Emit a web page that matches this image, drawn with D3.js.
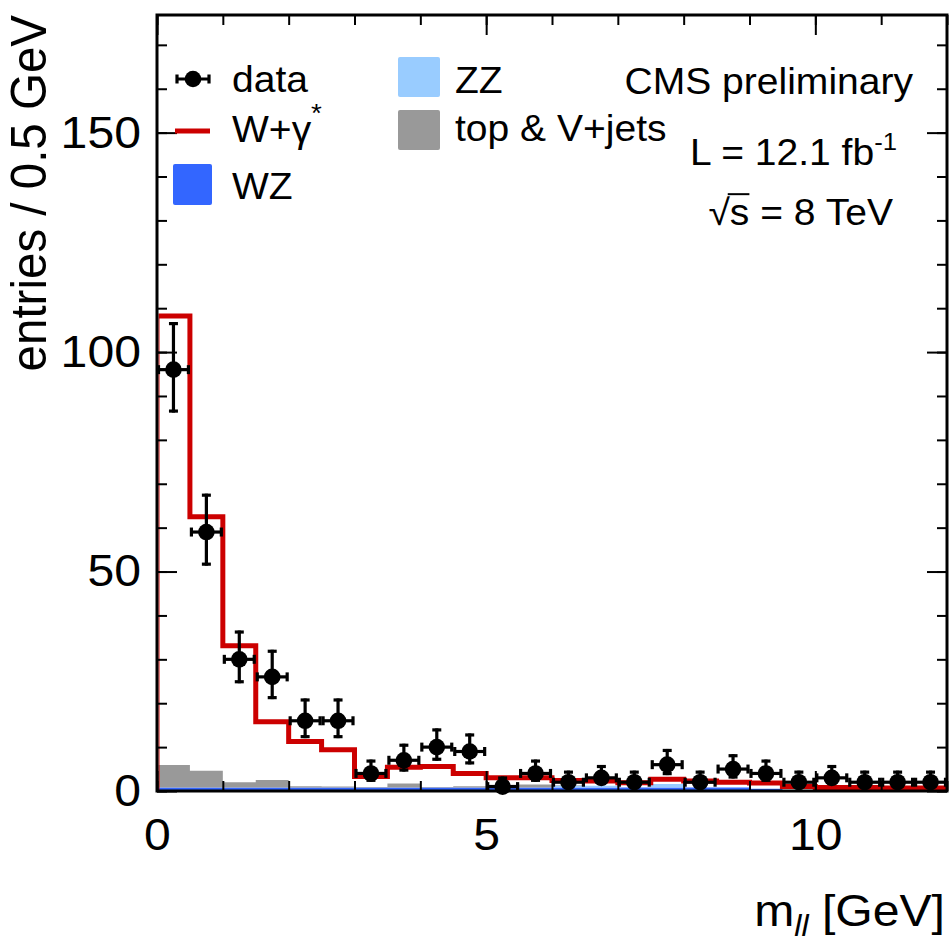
<!DOCTYPE html>
<html><head><meta charset="utf-8">
<script src="https://cdn.jsdelivr.net/npm/d3@7"></script>
<style>
body{margin:0;background:#fff}
svg{display:block}
text{font-family:"Liberation Sans",Arial,Helvetica,sans-serif;fill:#000}
</style>
</head><body>
<svg id="c" width="950" height="944"></svg>
<script>
// ---------------- data ----------------
const binLow = [0,0.5,1,1.5,2,2.5,3,3.5,4,4.5,5,5.5,6,6.5,7,7.5,8,8.5,9,9.5,10,10.5,11,11.5];
const binWidth = 0.5;
const dataCounts = [96,59,30,26,16,16,4,7,10,9,1,4,2,3,2,6,2,5,4,2,3,2,2,2];
const dataErrLow = [9.78,7.66,5.45,5.07,3.96,3.96,1.91,2.58,3.11,2.94,0.83,1.91,1.29,1.63,1.29,2.38,1.29,2.16,1.91,1.29,1.63,1.29,1.29,1.29];
const dataErrUp  = [10.83,8.74,6.56,6.18,5.08,5.08,3.16,3.77,4.26,4.11,2.30,3.16,2.64,2.92,2.64,3.58,2.64,3.38,3.16,2.64,2.92,2.64,2.64,2.64];
const wzValues   = [0.8,0.8,0.8,0.8,0.8,0.8,0.8,0.8,0.8,0.8,0.8,0.8,0.8,0.8,0.8,0.8,0.8,0.8,0.5,0.1,0,0,0,0];
const zzValues   = [0,0,0,0,0,0,0,0,0,0,0,0,0.4,0.4,0,0.8,0,0,0,0,0,0,0,0];
const topVjets   = [5.1,3.8,1.2,1.7,0.3,0.2,0.1,0.9,0.1,0.3,0.6,0.7,0.1,0,0,0,0,0,0,0,0,0,0,0];
const wgamma     = [102.3,57.9,31.1,13.3,10.2,8.4,2.4,3.7,4.7,2.9,1.6,1.5,1.1,1.1,1.1,1.1,1.5,1.2,1.3,0.9,0.8,0.8,0.7,0.7];
const xMajorTicks = [0,5,10];
const xMinorTicks = [0,1,2,3,4,5,6,7,8,9,10,11,12];
const yMajorTicks = [0,50,100,150];
const yMinorTicks = [0,10,20,30,40,50,60,70,80,90,100,110,120,130,140,150,160,170];
const xDomain = [0,12];
const yDomain = [0,176.8];

const legendLeft  = [{name:"data",type:"marker"},{name:"W+γ",sup:"*",type:"line",color:"#cc0000"},{name:"WZ",type:"box",color:"#3366ff"}];
const legendRight = [{name:"ZZ",type:"box",color:"#99ccff"},{name:"top & V+jets",type:"box",color:"#999999"}];
const colors = {wz:"#3366ff", zz:"#99ccff", top:"#999999", wg:"#cc0000"};

// ---------------- layout ----------------
const SX = 1.07; // horizontal stretch of the reference text
const svg = d3.select("#c");
const L = 157, R = 947, T = 15, B = 791;
const x = d3.scaleLinear().domain(xDomain).range([L,R]);
const y = d3.scaleLinear().domain(yDomain).range([B,T]);

svg.append("defs").append("clipPath").attr("id","clip")
  .append("rect").attr("x",L+1.5).attr("y",T).attr("width",R-L-1.5).attr("height",B-T);

// stacked fills
const rows = binLow.map((b,i)=>({x:b, wz:wzValues[i], zz:zzValues[i], top:topVjets[i], wg:wgamma[i]}));
const lastRow = Object.assign({}, rows[rows.length-1], {x: binLow[binLow.length-1]+binWidth});
const rowsExt = rows.concat([lastRow]);
const stack = d3.stack().keys(["wz","zz","top","wg"])(rowsExt);
const area = d3.area().curve(d3.curveStepAfter)
  .x(d=>x(d.data.x)).y0(d=>y(d[0])).y1(d=>y(d[1]));
const plot = svg.append("g").attr("clip-path","url(#clip)");
["wz","zz","top"].forEach(k=>{
  const s = stack.find(s=>s.key===k);
  plot.append("path").attr("d",area(s)).attr("fill",colors[k]).attr("stroke","none");
});
// W+gamma* outline (top of stack)
const wgLayer = stack.find(s=>s.key==="wg");
const linePts = [{x:xDomain[0],v:0}].concat(wgLayer.map(d=>({x:d.data.x, v:d[1]})));
const line = d3.line().curve(d3.curveStepAfter).x(d=>x(d.x)).y(d=>y(d.v));
plot.append("path").attr("d",line(linePts)).attr("fill","none")
  .attr("stroke",colors.wg).attr("stroke-width",5);

// data points
const dg = svg.append("g");
const cap = 4.5;
binLow.forEach((b,i)=>{
  const cx = x(b+binWidth/2), cy = y(dataCounts[i]);
  const x0 = x(b), x1 = x(b+binWidth);
  const yl = y(dataCounts[i]-dataErrLow[i]), yu = y(dataCounts[i]+dataErrUp[i]);
  const g = dg.append("g").attr("stroke","#000").attr("stroke-width",3.2);
  g.append("line").attr("x1",x0+1).attr("x2",x1-1).attr("y1",cy).attr("y2",cy);
  g.append("line").attr("x1",x0+1.5).attr("x2",x0+1.5).attr("y1",cy-cap).attr("y2",cy+cap);
  g.append("line").attr("x1",x1-1.5).attr("x2",x1-1.5).attr("y1",cy-cap).attr("y2",cy+cap);
  g.append("line").attr("x1",cx).attr("x2",cx).attr("y1",yu).attr("y2",yl);
  g.append("line").attr("x1",cx-cap).attr("x2",cx+cap).attr("y1",yu+1.5).attr("y2",yu+1.5);
  g.append("line").attr("x1",cx-cap).attr("x2",cx+cap).attr("y1",yl-1.5).attr("y2",yl-1.5);
  dg.append("circle").attr("cx",cx).attr("cy",cy).attr("r",8.3).attr("fill","#000");
});

// axes (ticks inside, on all four sides)
function styleAxis(g, fontSize){
  g.select(".domain").remove();
  g.selectAll(".tick line").attr("stroke","#000").attr("stroke-width",2);
  g.selectAll(".tick text").attr("font-size",fontSize).attr("fill","#000")
    .attr("font-family",'"Liberation Sans",Arial,sans-serif');
}
const TFS = 45;
const gxb = svg.append("g").attr("transform",`translate(0,${B})`)
  .call(d3.axisBottom(x).tickValues(xMajorTicks).tickSize(-20).tickPadding(27).tickFormat(d3.format("d")));
styleAxis(gxb, TFS);
gxb.selectAll(".tick text").attr("transform",`scale(${SX},1)`);
const gxbm = svg.append("g").attr("transform",`translate(0,${B})`)
  .call(d3.axisBottom(x).tickValues(xMinorTicks).tickSize(-10).tickFormat(""));
styleAxis(gxbm, TFS);
const gxt = svg.append("g").attr("transform",`translate(0,${T})`)
  .call(d3.axisTop(x).tickValues(xMajorTicks).tickSize(-20).tickFormat(""));
styleAxis(gxt, TFS);
const gxtm = svg.append("g").attr("transform",`translate(0,${T})`)
  .call(d3.axisTop(x).tickValues(xMinorTicks).tickSize(-10).tickFormat(""));
styleAxis(gxtm, TFS);

const gyl = svg.append("g").attr("transform",`translate(${L},0)`)
  .call(d3.axisLeft(y).tickValues(yMajorTicks).tickSize(-20).tickPadding(15).tickFormat(d3.format("d")));
styleAxis(gyl, TFS);
gyl.selectAll(".tick text").attr("transform",`scale(${SX},1)`);
const gylm = svg.append("g").attr("transform",`translate(${L},0)`)
  .call(d3.axisLeft(y).tickValues(yMinorTicks).tickSize(-10).tickFormat(""));
styleAxis(gylm, TFS);
const gyr = svg.append("g").attr("transform",`translate(${R},0)`)
  .call(d3.axisRight(y).tickValues(yMajorTicks).tickSize(-20).tickFormat(""));
styleAxis(gyr, TFS);
const gyrm = svg.append("g").attr("transform",`translate(${R},0)`)
  .call(d3.axisRight(y).tickValues(yMinorTicks).tickSize(-10).tickFormat(""));
styleAxis(gyrm, TFS);

// frame
svg.append("rect").attr("x",L).attr("y",T).attr("width",R-L).attr("height",B-T)
  .attr("fill","none").attr("stroke","#000").attr("stroke-width",3);

// text helper
function txt(str, px, py, size, anchor){
  return svg.append("text").attr("transform",`translate(${px},${py}) scale(${SX},1)`)
    .attr("font-size",size).attr("text-anchor",anchor||"start").text(str);
}

// axis titles
const xt = svg.append("text").attr("transform",`translate(945,926) scale(${SX},1)`)
  .attr("font-size",45).attr("text-anchor","end");
xt.append("tspan").text("m");
xt.append("tspan").attr("font-size",30).attr("font-style","italic").attr("dy",10).text("ll");
xt.append("tspan").attr("dy",-10).text(" [GeV]");

svg.append("text").attr("transform",`translate(46,15) rotate(-90) scale(1,${SX})`)
  .attr("font-size",47.5).attr("text-anchor","end").text("entries / 0.5 GeV");

// legend
const LFS = 36.5;
// data entry
(function(){
  const g = svg.append("g").attr("stroke","#000").attr("stroke-width",3.2);
  const cy = 79;
  g.append("line").attr("x1",176).attr("x2",210).attr("y1",cy).attr("y2",cy);
  g.append("line").attr("x1",177).attr("x2",177).attr("y1",cy-cap).attr("y2",cy+cap);
  g.append("line").attr("x1",209).attr("x2",209).attr("y1",cy-cap).attr("y2",cy+cap);
  svg.append("circle").attr("cx",193).attr("cy",cy).attr("r",8.3).attr("fill","#000");
  txt(legendLeft[0].name, 232, 92, LFS);
})();
// W+gamma*
svg.append("line").attr("x1",175).attr("x2",210).attr("y1",131).attr("y2",131)
  .attr("stroke",legendLeft[1].color).attr("stroke-width",5);
txt(legendLeft[1].name, 232, 142, LFS);
txt(legendLeft[1].sup, 311, 122, 26);
// WZ
svg.append("rect").attr("x",173).attr("y",164).attr("width",39).attr("height",41).attr("rx",2)
  .attr("fill",legendLeft[2].color);
txt(legendLeft[2].name, 232, 199, LFS);
// right column
svg.append("rect").attr("x",398).attr("y",57).attr("width",42).attr("height",40).attr("rx",2)
  .attr("fill",legendRight[0].color);
txt(legendRight[0].name, 455, 93, LFS);
svg.append("rect").attr("x",398).attr("y",110).attr("width",42).attr("height",40).attr("rx",2)
  .attr("fill",legendRight[1].color);
txt(legendRight[1].name, 455, 141, LFS);

// CMS labels
txt("CMS preliminary", 913, 94, LFS, "end");
const lt = svg.append("text").attr("transform",`translate(897,165) scale(${SX},1)`)
  .attr("font-size",LFS).attr("text-anchor","end");
lt.append("tspan").text("L = 12.1 fb");
lt.append("tspan").attr("font-size",24).attr("dy",-15).text("-1");

const sg = svg.append("g").attr("transform",`translate(893,225) scale(${SX},1)`);
const st = sg.append("text").attr("font-size",LFS).attr("text-anchor","end").text("√s = 8 TeV");
const ext = st.node().getExtentOfChar(1);
const ext0 = st.node().getExtentOfChar(0);
sg.append("line").attr("x1",ext0.x+ext0.width-2).attr("x2",ext.x+ext.width)
  .attr("y1",ext0.y+2).attr("y2",ext0.y+2).attr("stroke","#000").attr("stroke-width",2);
</script>
</body></html>
